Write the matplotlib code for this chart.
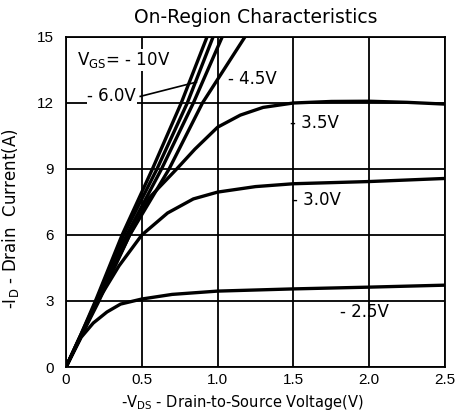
import matplotlib
matplotlib.use("Agg")
import matplotlib.pyplot as plt

plt.rcParams['font.family'] = ['Liberation Sans', 'DejaVu Sans']

title = "On-Region Characteristics"
xlabel = r"-V$_{\mathregular{DS}}$ - Drain-to-Source Voltage(V)"
ylabel = r"-I$_{\mathregular{D}}$ - Drain  Current(A)"
xticks = [0, 0.5, 1.0, 1.5, 2.0, 2.5]
xticklabels = ["0", "0.5", "1.0", "1.5", "2.0", "2.5"]
yticks = [0, 3, 6, 9, 12, 15]

# steep (linear-region) curves
v_10 = [0, 0.1, 0.2, 0.37, 0.57, 0.76, 0.93, 0.97]
i_10 = [0, 1.5, 3.1, 6.0, 9.0, 12.0, 15.0, 15.8]
v_8 = [0, 0.1, 0.2, 0.38, 0.60, 0.80, 0.97, 1.01]
i_8 = [0, 1.5, 3.0, 6.0, 9.0, 12.0, 15.0, 15.8]
v_6 = [0, 0.1, 0.2, 0.40, 0.63, 0.84, 1.03, 1.07]
i_6 = [0, 1.45, 2.9, 6.0, 9.0, 12.0, 15.0, 15.8]
v_45 = [0, 0.1, 0.21, 0.42, 0.68, 0.90, 1.18, 1.23]
i_45 = [0, 1.4, 2.9, 6.0, 9.0, 12.0, 15.0, 15.6]

v_35 = [0, 0.1, 0.2, 0.42, 0.55, 0.73, 0.85, 1.0, 1.15, 1.3, 1.5, 1.75, 2.0, 2.25, 2.5]
i_35 = [0, 1.45, 2.9, 6.0, 7.7, 9.0, 9.9, 10.9, 11.45, 11.8, 12.0, 12.07, 12.08, 12.03, 11.95]

v_30 = [0, 0.1, 0.2, 0.35, 0.5, 0.67, 0.84, 1.0, 1.25, 1.5, 2.0, 2.5]
i_30 = [0, 1.4, 2.9, 4.6, 6.0, 7.0, 7.64, 7.95, 8.2, 8.33, 8.43, 8.57]

v_25 = [0, 0.1, 0.18, 0.27, 0.36, 0.5, 0.7, 1.0, 1.5, 2.0, 2.5]
i_25 = [0, 1.35, 2.0, 2.5, 2.86, 3.09, 3.3, 3.45, 3.55, 3.63, 3.72]

fig = plt.figure(figsize=(4.59, 4.15), dpi=100)
ax = fig.add_axes([66/459, 1-367/415, (445-66)/459, (367-37)/415])

lw = 2.4
for v, i in [(v_10, i_10), (v_8, i_8), (v_6, i_6), (v_45, i_45),
             (v_35, i_35), (v_30, i_30), (v_25, i_25)]:
    ax.plot(v, i, color='black', lw=lw, solid_capstyle='round', zorder=3)

ax.set_xlim(0, 2.5)
ax.set_ylim(0, 15)
ax.set_xticks(xticks)
ax.set_xticklabels(xticklabels)
ax.set_yticks(yticks)
ax.grid(True, color='black', lw=1.3)
for s in ax.spines.values():
    s.set_linewidth(1.3)
ax.tick_params(length=0, labelsize=11)
ax.tick_params(axis='x', pad=4)
ax.tick_params(axis='y', pad=9)

dv = ['DejaVu Sans']
ax.set_title(title, fontsize=13.5, pad=10, family=dv)
ax.set_xlabel(xlabel, fontsize=10.5, family=dv)
ax.set_ylabel(ylabel, fontsize=12, family=dv)
ax.yaxis.set_label_coords(-0.118, 0.45)
ax.xaxis.set_label_coords(0.465, -0.078)

fs = 12
ax.text(0.07, 13.95, r"V$_{\mathregular{GS}}$= - 10V", fontsize=fs, va='center', family=dv,
        bbox=dict(facecolor='white', edgecolor='none', pad=0.5), zorder=4)
ax.text(0.14, 12.3, "- 6.0V", fontsize=fs, va='center', family=dv,
        bbox=dict(facecolor='white', edgecolor='none', pad=0.5), zorder=4)
ax.plot([0.49, 0.86], [12.3, 12.95], color='black', lw=1.2, zorder=4)
ax.text(1.07, 13.1, "- 4.5V", fontsize=fs, va='center', family=dv,
        bbox=dict(facecolor='white', edgecolor='none', pad=0.5), zorder=4)
ax.text(1.48, 11.1, "- 3.5V", fontsize=fs, va='center', family=dv, zorder=4)
ax.text(1.49, 7.6, "- 3.0V", fontsize=fs, va='center', family=dv, zorder=4)
ax.text(1.81, 2.5, "- 2.5V", fontsize=fs, va='center', family=dv, zorder=4)

fig.savefig("out.png", dpi=100)
